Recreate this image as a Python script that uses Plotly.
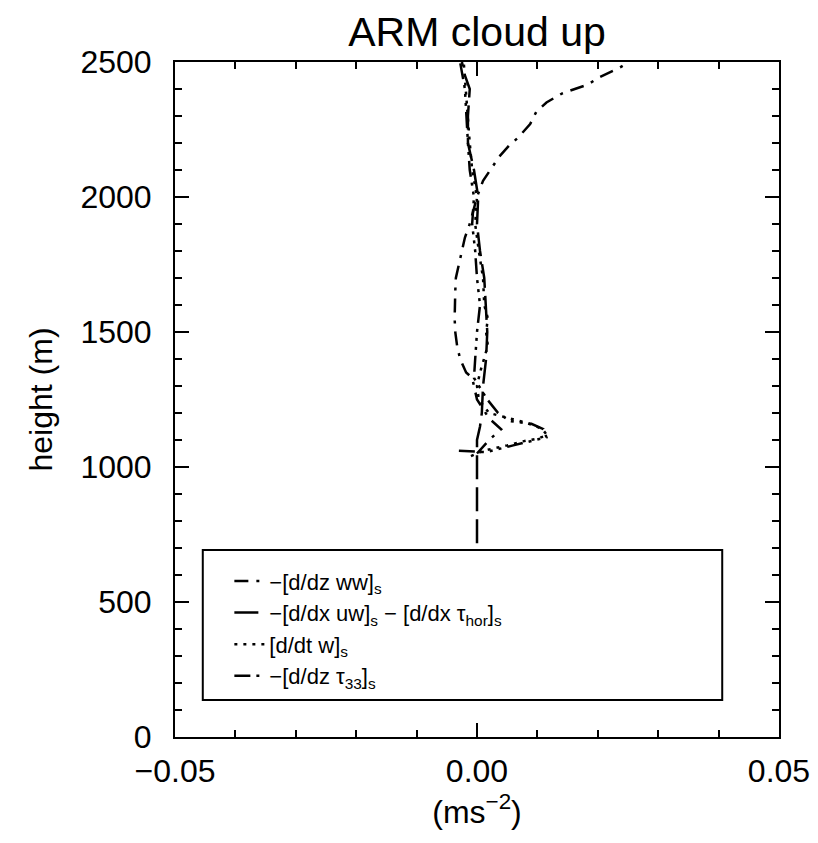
import plotly.graph_objects as go

# ---- data ----
ww_h = [1050, 1100, 1140, 1180, 1250, 1300, 1330, 1350, 1400, 1450, 1500, 1550, 1600,
        1650, 1700, 1750, 1800, 1850, 1900, 1950, 2000, 2060, 2100, 2150, 2190, 2220,
        2270, 2315, 2350, 2385, 2400, 2415, 2445, 2465, 2480, 2495]
ww_x = [0.0, 0.002, 0.004, 0.002, 0.0, -0.0005, -0.0008, -0.0018, -0.0028, -0.0033,
        -0.0036, -0.0037, -0.0037, -0.0036, -0.0035, -0.003, -0.0025, -0.002, -0.0012,
        -0.0006, 0.0, 0.001, 0.0022, 0.0037, 0.0053, 0.0068, 0.0088, 0.0098, 0.0115,
        0.0142, 0.0162, 0.0182, 0.0204, 0.0223, 0.0237, 0.0248]

uw_h = [718, 800, 900, 1000, 1050, 1100, 1150, 1200, 1300, 1400, 1500, 1600, 1700,
        1800, 1900, 2000, 2100, 2200, 2300, 2400, 2450, 2500]
uw_x = [0.0, 0.0, 0.0, 0.0, 0.0, 0.0, 0.0005, 0.0008, 0.001, 0.0015, 0.0017, 0.0015,
        0.0012, 0.0005, 0.0, 0.0002, -0.0005, -0.0015, -0.0015, -0.0012, -0.002, -0.0025]

dtw_h = [1040, 1060, 1080, 1095, 1105, 1118, 1135, 1145, 1165, 1200, 1250, 1300, 1350,
         1400, 1450, 1500, 1550, 1600, 1700, 1800, 1900, 2000, 2100, 2200, 2300, 2400, 2500]
dtw_x = [-0.001, 0.001, 0.005, 0.0076, 0.010, 0.0116, 0.011, 0.0104, 0.008, 0.002,
         0.0003, 0.0, 0.0005, 0.0012, 0.0018, 0.0015, 0.0018, 0.0012, 0.001, 0.0003,
         -0.0003, 0.0, -0.0008, -0.0012, -0.0015, -0.0018, -0.0022]

tau_h = [1060, 1055, 1080, 1110, 1140, 1160, 1170, 1200, 1250, 1300, 1330, 1400, 1500,
         1600, 1700, 1800, 1900, 2000, 2100, 2200, 2300, 2400, 2500]
tau_x = [-0.003, 0.0015, 0.006, 0.0115, 0.011, 0.009, 0.0055, 0.0035, 0.0017, 0.0003,
         -0.0005, -0.0003, 0.0, 0.0005, 0.0, -0.0003, -0.0008, -0.0005, -0.0012, -0.0015,
         -0.0018, -0.002, -0.0028]

names = ["−[d/dz ww]<sub>s</sub>",
         "−[d/dx uw]<sub>s</sub> − [d/dx τ<sub>hor</sub>]<sub>s</sub>",
         "[d/dt w]<sub>s</sub>",
         "−[d/dz τ<sub>33</sub>]<sub>s</sub>"]

x_ticks = [-0.05, 0.0, 0.05]
x_tick_labels = ["−0.05", "0.00", "0.05"]
y_ticks = [0, 500, 1000, 1500, 2000, 2500]

FONT = "Liberation Sans, Arial, sans-serif"

fig = go.Figure()
styles = [
    (ww_x, ww_h, names[0], "14px,8px,3px,8px"),
    (uw_x, uw_h, names[1], "24px,8px"),
    (dtw_x, dtw_h, names[2], "3px,6px"),
    (tau_x, tau_h, names[3], "16px,6px,3px,6px,3px,6px,3px,6px"),
]
for xs, hs, nm, dash in styles:
    fig.add_trace(go.Scatter(x=xs, y=hs, mode="lines", name=nm,
                             line=dict(color="black", width=2.5, dash=dash)))

axis_common = dict(
    showline=True, linecolor="black", linewidth=2, mirror="allticks",
    ticks="inside", ticklen=14, tickwidth=1.5, tickcolor="black",
    showgrid=False, zeroline=False,
    tickfont=dict(family=FONT, size=32, color="black"),
)

fig.update_xaxes(range=[-0.05, 0.05], tickvals=x_ticks, ticktext=x_tick_labels,
                 minor=dict(dtick=0.01, ticks="inside", ticklen=7, tickwidth=1.5,
                            tickcolor="black", showgrid=False),
                 title=dict(text="(ms<sup>−2</sup>)", font=dict(family=FONT, size=32, color="black"),
                            standoff=0),
                 ticklabelstandoff=5,
                 **axis_common)
fig.update_yaxes(range=[0, 2500], tickvals=y_ticks,
                 minor=dict(dtick=100, ticks="inside", ticklen=7, tickwidth=1.5,
                            tickcolor="black", showgrid=False),
                 title=dict(text="height (m)", font=dict(family=FONT, size=32, color="black"),
                            standoff=18),
                 ticklabelstandoff=15,
                 **axis_common)

fig.add_shape(type="rect", xref="paper", yref="paper",
              x0=0.046, x1=0.906, y0=0.055, y1=0.277,
              line=dict(color="black", width=2), fillcolor="white", layer="below")

fig.update_layout(
    width=810, height=835,
    margin=dict(l=167, r=39, t=54, b=106, autoexpand=False),
    paper_bgcolor="white", plot_bgcolor="white",
    title=dict(text="ARM cloud up", x=0.5, xref="paper", xanchor="center",
               y=1 - 24 / 835, yref="container", yanchor="middle",
               font=dict(family=FONT, size=41, color="black")),
    legend=dict(x=0.09, y=0.262, xanchor="left", yanchor="top",
                bgcolor="rgba(0,0,0,0)", borderwidth=0,
                font=dict(family=FONT, size=22, color="black"),
                tracegroupgap=0),
    showlegend=True,
)

fig.write_html("out.html")
